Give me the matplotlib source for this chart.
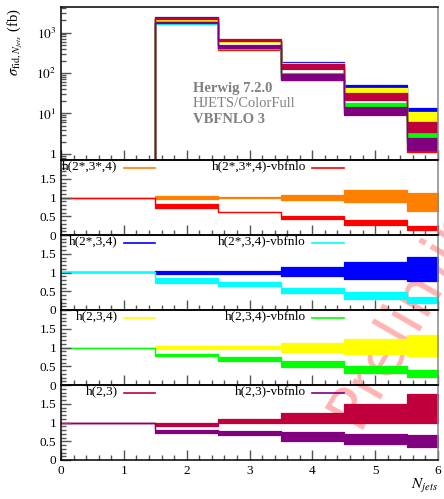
import numpy as np
import matplotlib
matplotlib.use("Agg")
import matplotlib.pyplot as plt
from matplotlib.ticker import FixedLocator, MultipleLocator, FixedFormatter, NullFormatter

plt.rcParams['font.family'] = ['Liberation Serif', 'DejaVu Serif']
plt.rcParams['mathtext.fontset'] = 'stix'

# jet-multiplicity bins
bin_edges = [0, 1.5, 2.5, 3.5, 4.5, 5.5, 6.5]

# central cross sections (fb) of the reference setup in each ratio panel
xs_h2s3s4 = [0, 2250, 610, 155, 36, 8.5]
xs_h2s34 = [0, 2250, 630, 162, 39, 9.6]
xs_h234 = [0, 2200, 610, 158, 34.5, 8.4]
xs_h23 = [0, 2300, 620, 130, 21.5, 3.6]

# scale-variation bands, as ratios to the panel reference
r_h2s3s4_lo = [1, 0.96, 0.995, 0.93, 0.89, 0.64]
r_h2s3s4_hi = [1, 1.04, 1.005, 1.08, 1.21, 1.12]
r_h2s3s4_vbf_lo = [1, 0.73, 0.615, 0.43, 0.28, 0.13]
r_h2s3s4_vbf_hi = [1, 0.82, 0.625, 0.50, 0.39, 0.24]

r_h2s34_lo = [1, 0.95, 0.97, 0.90, 0.82, 0.78]
r_h2s34_hi = [1, 1.05, 1.04, 1.14, 1.28, 1.40]
r_h2s34_vbf_lo = [1, 0.73, 0.64, 0.44, 0.29, 0.19]
r_h2s34_vbf_hi = [1, 0.84, 0.75, 0.58, 0.47, 0.34]

r_h234_lo = [1, 0.95, 0.96, 0.87, 0.83, 0.78]
r_h234_hi = [1, 1.04, 1.04, 1.13, 1.22, 1.33]
r_h234_vbf_lo = [1, 0.78, 0.65, 0.47, 0.31, 0.22]
r_h234_vbf_hi = [1, 0.84, 0.76, 0.64, 0.52, 0.40]

r_h23_lo = [1, 0.92, 0.99, 0.99, 0.99, 0.99]
r_h23_hi = [1, 0.99, 1.09, 1.26, 1.49, 1.76]
r_h23_vbf_lo = [1, 0.73, 0.66, 0.51, 0.43, 0.34]
r_h23_vbf_hi = [1, 0.79, 0.78, 0.74, 0.69, 0.67]

panels = [
    (xs_h2s3s4,
     ("h(2*,3*,4)", "#ff8000", r_h2s3s4_lo, r_h2s3s4_hi),
     ("h(2*,3*,4)-vbfnlo", "#ff0000", r_h2s3s4_vbf_lo, r_h2s3s4_vbf_hi)),
    (xs_h2s34,
     ("h(2*,3,4)", "#0000ff", r_h2s34_lo, r_h2s34_hi),
     ("h(2*,3,4)-vbfnlo", "#00ffff", r_h2s34_vbf_lo, r_h2s34_vbf_hi)),
    (xs_h234,
     ("h(2,3,4)", "#ffff00", r_h234_lo, r_h234_hi),
     ("h(2,3,4)-vbfnlo", "#00ff00", r_h234_vbf_lo, r_h234_vbf_hi)),
    (xs_h23,
     ("h(2,3)", "#c0003c", r_h23_lo, r_h23_hi),
     ("h(2,3)-vbfnlo", "#800080", r_h23_vbf_lo, r_h23_vbf_hi)),
]

W, H = 444, 499
fig = plt.figure(figsize=(W / 100, H / 100), dpi=100)
fig.patch.set_facecolor("white")

def add_ax(left, top, right, bottom):
    ax = fig.add_axes([left / W, 1 - bottom / H, (right - left) / W, (bottom - top) / H])
    ax.set_facecolor("none")
    return ax

def steps(vals):
    x = np.repeat(bin_edges, 2)[1:-1]
    y = np.repeat(np.asarray(vals, dtype=float), 2)
    return x, y

def band(ax, lo, hi, color):
    x, ylo = steps(lo)
    _, yhi = steps(hi)
    ax.fill_between(x, ylo, yhi, color=color, lw=0.9)

def style(ax):
    for side in ("left", "bottom", "top"):
        ax.spines[side].set_color("black")
        ax.spines[side].set_linewidth(1.1)
    ax.spines["right"].set_color("#888888")
    ax.spines["right"].set_linewidth(1.1)
    ax.set_xlim(0, 6)
    ax.xaxis.set_major_locator(MultipleLocator(1))
    ax.xaxis.set_minor_locator(MultipleLocator(0.2))
    ax.tick_params(which="both", direction="in", top=False, right=False,
                   colors="#555555", labelcolor="black", labelsize=9.5, width=1.0)
    ax.tick_params(which="major", length=7)
    ax.tick_params(which="minor", length=3.5)

x_left, x_right = 61, 438
tops = [7, 160, 235, 310, 385, 460]

# cross-section panel
ax0 = add_ax(x_left, tops[0], x_right, tops[1])
ax0.set_yscale("log")
for ref, s1, s2 in panels:
    for name, col, lo, hi in (s1, s2):
        band(ax0, np.multiply(ref, lo), np.multiply(ref, hi), col)
ax0.set_ylim(0.71, 4270)
style(ax0)
ax0.yaxis.set_major_locator(FixedLocator([1, 10, 100, 1000]))
ax0.yaxis.set_major_formatter(FixedFormatter(["1", "$10^1$", "$10^2$", "$10^3$"]))
ax0.yaxis.set_minor_locator(FixedLocator([m * 10.0 ** d for d in range(-1, 4) for m in range(2, 10)]))
ax0.yaxis.set_minor_formatter(NullFormatter())
ax0.set_xticklabels([])
ax0.text(0.35, 0.47, "Herwig 7.2.0", transform=ax0.transAxes, color="#808080",
         fontsize=10.5, fontweight="bold", va="center")
ax0.text(0.35, 0.37, "HJETS/ColorFull", transform=ax0.transAxes, color="#808080",
         fontsize=10.5, va="center")
ax0.text(0.35, 0.265, "VBFNLO 3", transform=ax0.transAxes, color="#808080",
         fontsize=10.5, fontweight="bold", va="center")

# ratio panels
for i, (ref, s1, s2) in enumerate(panels):
    ax = add_ax(x_left, tops[i + 1], x_right, tops[i + 2])
    for name, col, lo, hi in (s1, s2):
        band(ax, lo, hi, col)
    ax.set_ylim(0, 2.0)
    style(ax)
    ax.yaxis.set_major_locator(FixedLocator([0, 0.5, 1, 1.5]))
    ax.yaxis.set_major_formatter(FixedFormatter(["0", "0.5", "1", "1.5"]))
    ax.yaxis.set_minor_locator(MultipleLocator(0.1))
    for (name, col, lo, hi), xt, xl in ((s1, 0.9, (1.0, 1.5)), (s2, 3.9, (4.0, 4.5))):
        ax.text(xt, 1.83, name, fontsize=9.5, ha="right", va="center")
        ax.plot(xl, [1.78, 1.78], color=col, lw=1.2)
    if i < 3:
        ax.set_xticklabels([])

fig.text(15 / W, 1 - 42 / H, r"$\sigma_{\mathrm{fid},N_{jets}}$ (fb)", rotation=90,
         ha="center", va="center", fontsize=10.5)
fig.text(438 / W, 1 - 486 / H, r"$N_{jets}$", ha="right", va="center", fontsize=11)

# diagonal watermark running off the right-hand edge
fig.text(358 / W, 1 - 430 / H, "Preliminary", rotation=60, rotation_mode="anchor",
         ha="left", va="baseline", fontsize=44, color="#ff0000", alpha=0.3,
         family="DejaVu Sans", zorder=-1)

fig.savefig("out.png", dpi=100)
